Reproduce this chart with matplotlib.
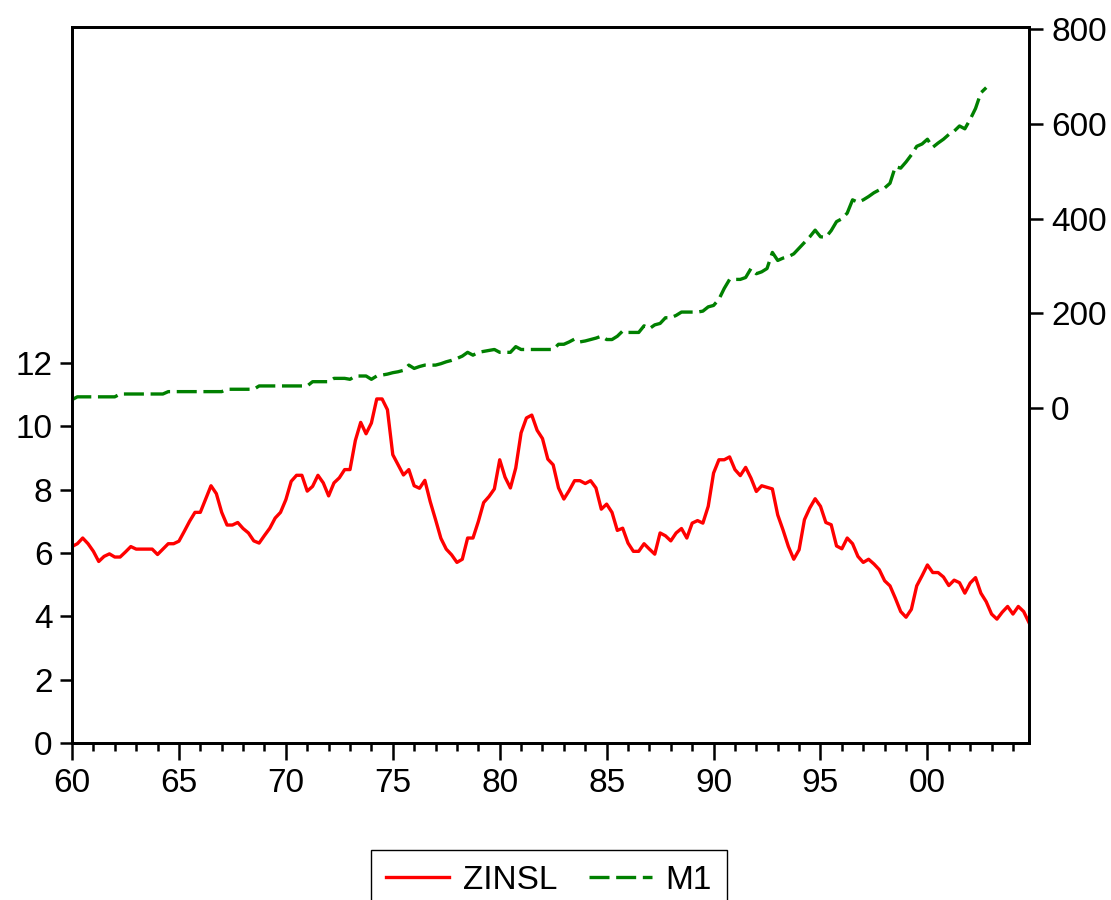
import numpy as np
import matplotlib.pyplot as plt
import pandas as pd

# quarterly sample 1960Q1 - 2004Q4
quarters = pd.period_range('1960Q1', '2004Q4', freq='Q')
t = np.array(quarters.year + (quarters.quarter - 1) / 4.0)

# ZINSL, one row per year (Q1..Q4)
zinsl = [6.20, 6.29, 6.47, 6.29,
         6.05, 5.73, 5.89, 5.97,
         5.87, 5.87, 6.03, 6.20,
         6.12, 6.12, 6.12, 6.12,
         5.95, 6.12, 6.29, 6.29,
         6.37, 6.68, 7.00, 7.28,
         7.28, 7.70, 8.12, 7.87,
         7.28, 6.88, 6.88, 6.96,
         6.77, 6.63, 6.38, 6.31,
         6.55, 6.78, 7.10, 7.28,
         7.68, 8.26, 8.45, 8.45,
         7.95, 8.10, 8.45, 8.21,
         7.80, 8.21, 8.37, 8.63,
         8.63, 9.55, 10.12, 9.76,
         10.10, 10.86, 10.86, 10.52,
         9.10, 8.78, 8.46, 8.63,
         8.12, 8.04, 8.29, 7.62,
         7.05, 6.46, 6.12, 5.94,
         5.70, 5.80, 6.47, 6.47,
         6.99, 7.59, 7.78, 8.02,
         8.94, 8.39, 8.05, 8.68,
         9.79, 10.26, 10.35, 9.87,
         9.61, 8.96, 8.78, 8.05,
         7.70, 7.97, 8.28, 8.28,
         8.19, 8.28, 8.05, 7.38,
         7.54, 7.28, 6.71, 6.78,
         6.31, 6.05, 6.05, 6.29,
         6.12, 5.96, 6.63, 6.54,
         6.38, 6.63, 6.77, 6.47,
         6.94, 7.02, 6.94, 7.47,
         8.52, 8.94, 8.94, 9.03,
         8.63, 8.44, 8.70, 8.36,
         7.94, 8.12, 8.07, 8.02,
         7.20, 6.72, 6.20, 5.80,
         6.10, 7.05, 7.42, 7.71,
         7.47, 6.96, 6.89, 6.22,
         6.13, 6.47, 6.29, 5.89,
         5.70, 5.80, 5.65, 5.47,
         5.12, 4.96, 4.57, 4.15,
         3.97, 4.22, 4.96, 5.28,
         5.62, 5.38, 5.38, 5.24,
         4.97, 5.14, 5.06, 4.73,
         5.05, 5.22, 4.73, 4.46,
         4.07, 3.91, 4.13, 4.31,
         4.07, 4.31, 4.15, 3.80]

# M1, ends 2002Q4
m1 = [18, 24, 24, 24,
      24, 24, 24, 24,
      24, 30, 30, 30,
      30, 30, 30, 30,
      30, 30, 35, 35,
      35, 35, 35, 35,
      35, 35, 35, 35,
      35, 40, 40, 40,
      40, 40, 40, 47,
      47, 47, 47, 47,
      47, 47, 47, 47,
      47, 56, 56, 56,
      56, 63, 63, 63,
      61, 68, 68, 68,
      61, 68, 70, 72,
      75, 77, 80, 91,
      84, 88, 91, 91,
      91, 94, 98, 101,
      105, 110, 118, 112,
      118, 120, 122, 124,
      118, 118, 118, 130,
      124, 124, 124, 124,
      124, 124, 124, 135,
      135, 140, 146, 140,
      142, 145, 148, 152,
      145, 145, 152, 163,
      160, 160, 160, 174,
      168, 176, 179, 191,
      191, 196, 203, 203,
      203, 203, 205, 214,
      217, 230, 253, 272,
      272, 272, 276, 295,
      284, 288, 295, 329,
      312, 317, 320, 326,
      338, 350, 362, 376,
      362, 361, 375, 394,
      400, 412, 440, 435,
      440, 447, 455, 461,
      465, 475, 510, 507,
      520, 535, 553, 558,
      568, 551, 560, 568,
      578, 585, 596, 590,
      610, 633, 666, 677]

left_ticks = [0, 2, 4, 6, 8, 10, 12]
right_ticks = [0, 200, 400, 600, 800]
year_ticks = [1960, 1965, 1970, 1975, 1980, 1985, 1990, 1995, 2000]

plt.rcParams['font.family'] = ['Liberation Sans', 'DejaVu Sans']
fs = 24

fig = plt.figure(figsize=(11.11, 9), dpi=100)
ax = fig.add_axes([72/1111, 157/900, (1029-72)/1111, (873-157)/900])
ax2 = ax.twinx()

l1, = ax.plot(t, zinsl, color='#ff0000', lw=2.4, label='ZINSL')
l2, = ax2.plot(t[:len(m1)], m1, color='#008000', lw=2.4, dashes=(6, 2), label='M1')

ax.set_xlim(1960, 2004.75)
ax.set_ylim(0, 22.6)
ax2.set_ylim(-707, 805)

ax.set_xticks(year_ticks)
ax.set_xticklabels(['%02d' % (y % 100) for y in year_ticks])
ax.set_xticks(np.arange(1961, 2005), minor=True)
ax.set_yticks(left_ticks)
ax2.set_yticks(right_ticks)
ax.yaxis.set_minor_locator(plt.NullLocator())
ax2.yaxis.set_minor_locator(plt.NullLocator())

ax.tick_params(axis='x', which='major', direction='out', length=12, width=1.8, labelsize=fs, pad=6)
ax.tick_params(axis='x', which='minor', direction='out', length=6, width=1.8)
ax.tick_params(axis='y', direction='out', length=9, width=1.8, labelsize=fs, pad=5)
ax2.tick_params(axis='y', direction='out', length=10, width=1.8, labelsize=fs, pad=6)

for a in (ax, ax2):
    for s in a.spines.values():
        s.set_linewidth(2.0)
        s.set_color('black')

fig.legend([l1, l2], ['ZINSL', 'M1'], loc='upper center',
           bbox_to_anchor=(549/1111, 1 - 850/900), ncol=2, fontsize=fs,
           frameon=True, fancybox=False, edgecolor='black', framealpha=1,
           handlelength=1.9, handletextpad=0.4, columnspacing=0.95,
           borderpad=0.45, borderaxespad=0)

fig.savefig('out.png', dpi=100)
